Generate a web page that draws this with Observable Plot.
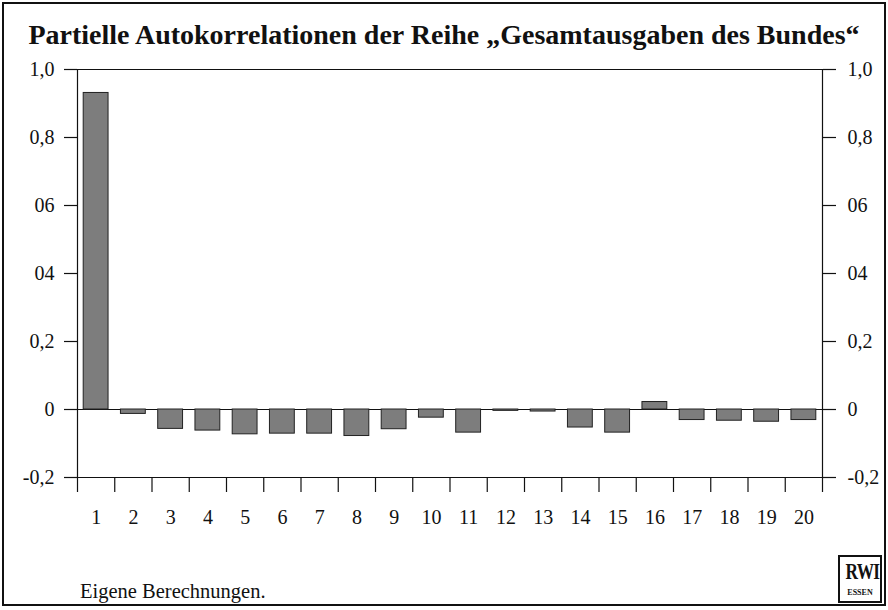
<!DOCTYPE html>
<html><head><meta charset="utf-8">
<script src="https://cdn.jsdelivr.net/npm/d3@7"></script>
<script src="https://cdn.jsdelivr.net/npm/@observablehq/plot@0.6"></script>
<style>
body{margin:0;background:#fff;}
#frame{position:relative;width:888px;height:610px;overflow:hidden;font-family:"Liberation Serif",serif;color:#111;}
#border{position:absolute;left:2px;top:2px;width:880px;height:600px;border:2px solid #111;}
#title{position:absolute;left:0;top:19px;width:888px;text-align:center;font-weight:bold;font-size:28px;white-space:nowrap;}
#chart{position:absolute;left:0;top:0;}
#caption{position:absolute;left:80px;top:580px;font-size:20.5px;}
#logo{position:absolute;left:838px;top:555px;width:40px;height:44px;border:2px solid #111;text-align:center;line-height:1;overflow:hidden;}
#logo .a{font-weight:bold;font-size:24px;margin-top:2px;transform:scaleX(0.72);letter-spacing:-1px;}
#logo .b{font-weight:bold;font-size:8px;margin-top:6px;}
</style></head>
<body>
<div id="frame">
  <div id="border"></div>
  <div id="chart"></div>
  <div id="title">Partielle Autokorrelationen der Reihe „Gesamtausgaben des Bundes“</div>
  <div id="caption">Eigene Berechnungen.</div>
  <div id="logo"><div class="a">RWI</div><div class="b">ESSEN</div></div>
</div>
<script>
const lags = [1,2,3,4,5,6,7,8,9,10,11,12,13,14,15,16,17,18,19,20];
const pacf = [0.931,-0.013,-0.057,-0.062,-0.073,-0.071,-0.071,-0.078,-0.058,-0.024,-0.068,-0.004,-0.006,-0.053,-0.068,0.022,-0.031,-0.033,-0.036,-0.031];
const xTickLabels = ["1","2","3","4","5","6","7","8","9","10","11","12","13","14","15","16","17","18","19","20"];
const yTicks = [-0.2,0,0.2,0.4,0.6,0.8,1.0];
const yTickLabels = ["-0,2","0","0,2","04","06","0,8","1,0"];
const yRules = [1.0, 0, -0.2];

const data = lags.map((lag,i)=>({lag, value: pacf[i]}));
const yLab = d => yTickLabels[yTicks.findIndex(t=>Math.abs(t-d)<1e-9)];
const boundaries = lags.concat([lags[lags.length-1]+1]);
const centers = lags.map(l=>l+0.5);

const chart = Plot.plot({
  width: 888, height: 540,
  marginLeft: 77, marginRight: 66, marginTop: 69, marginBottom: 63,
  style: {fontFamily: "Liberation Serif", fontSize: "20px", color: "#111", background: "transparent"},
  x: {domain: [1, 21]},
  y: {domain: [-0.2, 1.0]},
  marks: [
    Plot.ruleY(yRules, {stroke: "#111", strokeWidth: 1.2}),
    Plot.ruleX([boundaries[0], boundaries[boundaries.length-1]], {y1: -0.2, y2: 1.0, stroke: "#111", strokeWidth: 1.2}),
    Plot.rectY(data, {x: "lag", interval: 1, y: "value", fill: "#7d7d7d", stroke: "#222", strokeWidth: 1, insetLeft: 6.2, insetRight: 6.2}),
    Plot.axisY({anchor: "left", ticks: yTicks, tickFormat: yLab, tickSize: 13, tickPadding: 10, label: null, strokeWidth: 1.2}),
    Plot.axisY({anchor: "right", ticks: yTicks, tickFormat: yLab, tickSize: 13, tickPadding: 12, label: null, strokeWidth: 1.2}),
    Plot.axisX({ticks: boundaries, tickSize: 15, tickFormat: () => "", label: null, strokeWidth: 1.2}),
    Plot.axisX({ticks: centers, tickSize: 0, tickPadding: 32, tickFormat: d => xTickLabels[Math.round(d-1.5)], label: null})
  ]
});
document.getElementById("chart").appendChild(chart);
</script>
</body></html>
